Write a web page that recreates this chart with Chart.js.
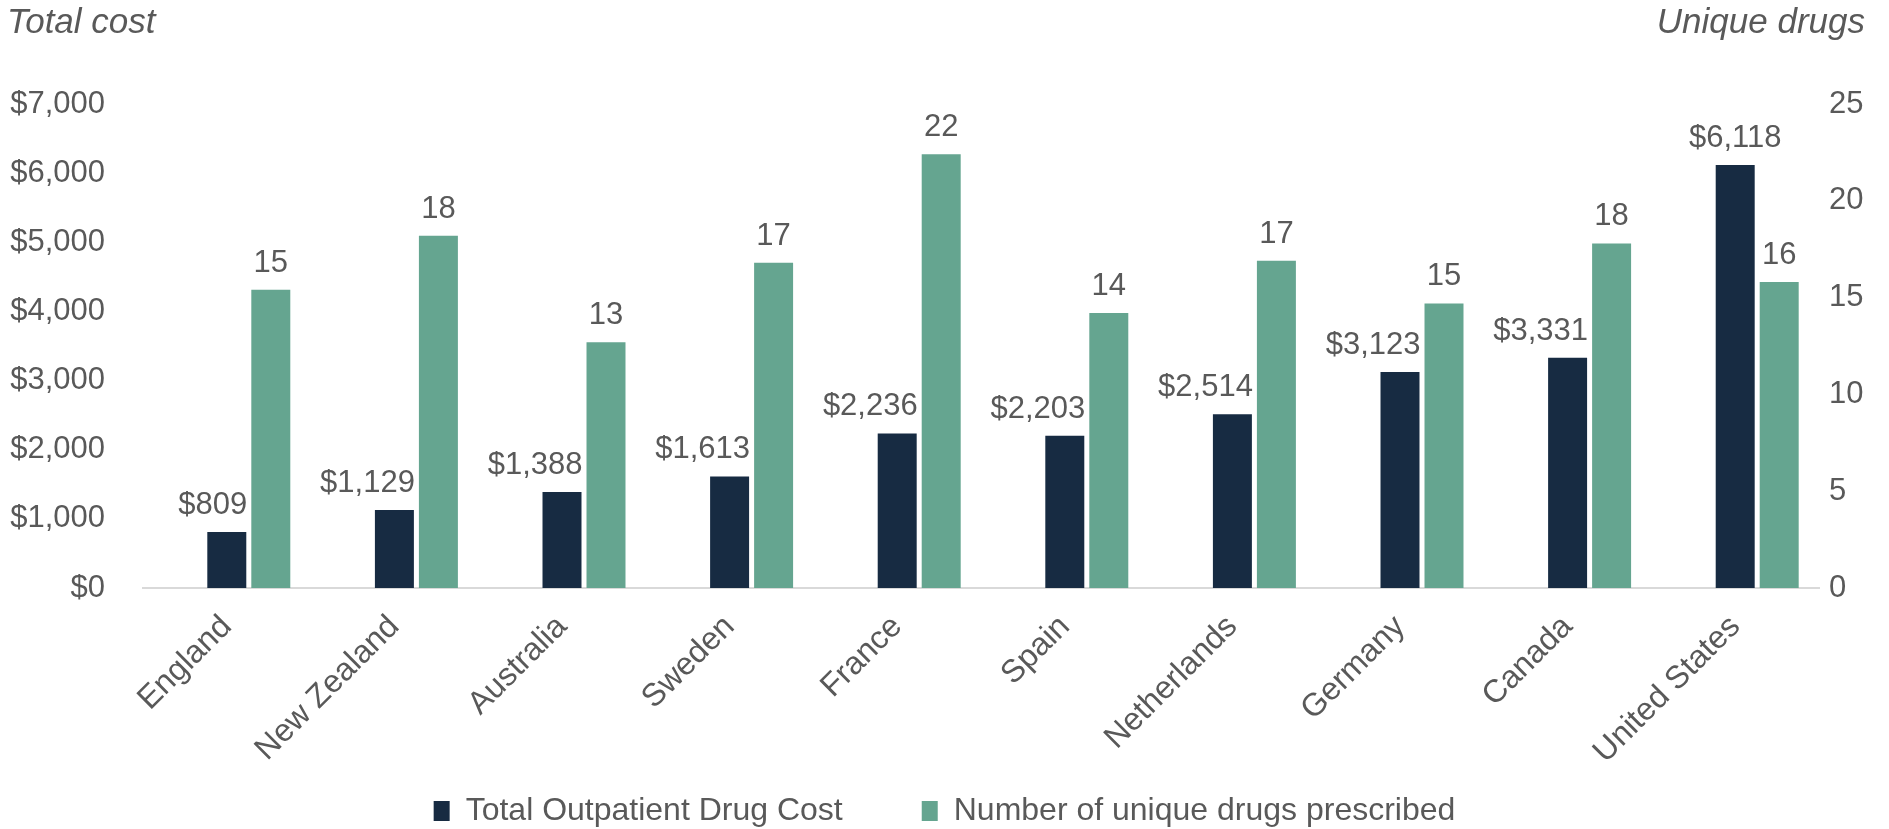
<!DOCTYPE html>
<html>
<head>
<meta charset="utf-8">
<script src="https://cdn.jsdelivr.net/npm/chart.js@4.4.1/dist/chart.umd.min.js"></script>
<style>
  html, body { margin: 0; padding: 0; background: #ffffff; }
  #wrap { width: 1889px; height: 829px; position: relative; }
</style>
</head>
<body>
<div id="wrap"><canvas id="c"></canvas></div>
<script>
// ---- data ----
const categories = ['England', 'New Zealand', 'Australia', 'Sweden', 'France', 'Spain', 'Netherlands', 'Germany', 'Canada', 'United States'];
const totalCost = [809, 1129, 1388, 1613, 2236, 2203, 2514, 3123, 3331, 6118];
const uniqueDrugs = [15.4, 18.2, 12.7, 16.8, 22.4, 14.2, 16.9, 14.7, 17.8, 15.8];
const seriesNames = ['Total Outpatient Drug Cost', 'Number of unique drugs prescribed'];
const axisTitles = ['Total cost', 'Unique drugs'];
const costAxis = { min: 0, max: 7000, step: 1000 };
const drugAxis = { min: 0, max: 25, step: 5 };

const NAVY = '#172B42';
const GREEN = '#65A590';
const TEXT = '#595959';
const FONT = '"Liberation Sans", Arial, Helvetica, sans-serif';

const fmtCost = v => '$' + Math.round(v).toLocaleString('en-US');
const fmtDrug = v => String(Math.round(v));

const axisTitlePlugin = {
  id: 'axisTitles',
  afterDraw(chart) {
    const ctx = chart.ctx;
    ctx.save();
    ctx.fillStyle = TEXT;
    ctx.font = 'italic 35px ' + FONT;
    ctx.textBaseline = 'alphabetic';
    ctx.textAlign = 'left';
    ctx.fillText(axisTitles[0], 7, 33);
    ctx.textAlign = 'right';
    ctx.fillText(axisTitles[1], chart.width - 24, 33);
    ctx.restore();
  }
};

// let the rotated category labels extend below the axis box instead of being clipped
const labelRoomPlugin = {
  id: 'labelRoom',
  afterLayout(chart) {
    chart.scales.x.bottom = chart.height;
  }
};

const valueLabelPlugin = {
  id: 'valueLabels',
  afterDatasetsDraw(chart) {
    const ctx = chart.ctx;
    const costMeta = chart.getDatasetMeta(1);
    const drugMeta = chart.getDatasetMeta(2);
    ctx.save();
    ctx.fillStyle = TEXT;
    ctx.font = '31px ' + FONT;
    ctx.textBaseline = 'alphabetic';
    const gap = 18;
    costMeta.data.forEach((bar, i) => {
      const text = fmtCost(totalCost[i]);
      const base = bar.y - gap;
      const w = ctx.measureText(text).width;
      const other = drugMeta.data[i];
      const rightIfCentered = bar.x + w / 2;
      const otherLeft = other.x - other.width / 2;
      if (other.y < base && rightIfCentered > otherLeft) {
        ctx.textAlign = 'right';
        ctx.fillText(text, bar.x + bar.width / 2 + 1, base);
      } else {
        ctx.textAlign = 'center';
        ctx.fillText(text, bar.x, base);
      }
    });
    drugMeta.data.forEach((bar, i) => {
      ctx.textAlign = 'center';
      ctx.fillText(fmtDrug(uniqueDrugs[i]), bar.x, bar.y - gap);
    });
    ctx.restore();
  }
};

new Chart(document.getElementById('c'), {
  type: 'bar',
  data: {
    labels: categories,
    datasets: [
      { label: '', data: categories.map(() => null), yAxisID: 'y', backgroundColor: 'rgba(0,0,0,0)' },
      { label: seriesNames[0], data: totalCost, yAxisID: 'y', backgroundColor: NAVY, borderWidth: 0 },
      { label: seriesNames[1], data: uniqueDrugs, yAxisID: 'y1', backgroundColor: GREEN, borderWidth: 0 }
    ]
  },
  options: {
    responsive: true,
    maintainAspectRatio: false,
    animation: false,
    devicePixelRatio: 1,
    categoryPercentage: 0.7876,
    barPercentage: 0.886,
    layout: { padding: { top: 104, left: 0, right: 0, bottom: -8 } },
    plugins: {
      tooltip: { enabled: false },
      legend: {
        position: 'bottom',
        labels: {
          color: TEXT,
          font: { family: FONT, size: 32 },
          boxWidth: 16,
          boxHeight: 20,
          padding: 79,
          filter: item => item.text !== ''
        }
      }
    },
    scales: {
      x: {
        grid: { display: false, drawTicks: false },
        border: { display: true, color: '#D9D9D9', width: 2 },
        ticks: {
          color: TEXT,
          font: { family: FONT, size: 32 },
          maxRotation: 45,
          minRotation: 45,
          autoSkip: false,
          padding: 20
        },
        afterFit(scale) { scale.height = 128; }
      },
      y: {
        position: 'left',
        min: costAxis.min,
        max: costAxis.max,
        grid: { display: false, drawTicks: false },
        border: { display: false },
        ticks: {
          stepSize: costAxis.step,
          color: TEXT,
          font: { family: FONT, size: 31 },
          padding: 38,
          callback: v => fmtCost(v)
        },
        afterFit(scale) { scale.width = 143; }
      },
      y1: {
        position: 'right',
        min: drugAxis.min,
        max: drugAxis.max,
        grid: { display: false, drawTicks: false },
        border: { display: false },
        ticks: {
          stepSize: drugAxis.step,
          color: TEXT,
          font: { family: FONT, size: 31 },
          padding: 10,
          callback: v => String(v)
        },
        afterFit(scale) { scale.width = 70; }
      }
    }
  },
  plugins: [axisTitlePlugin, labelRoomPlugin, valueLabelPlugin]
});
</script>
</body>
</html>
